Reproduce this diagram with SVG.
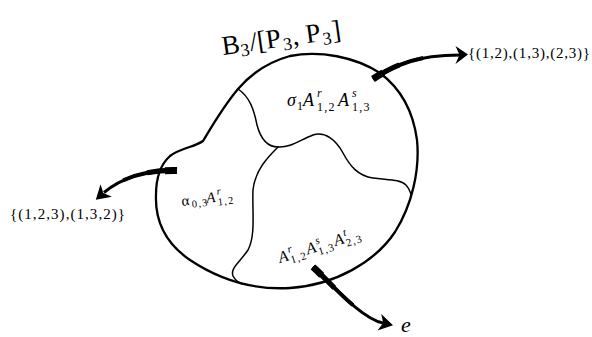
<svg xmlns="http://www.w3.org/2000/svg" width="592" height="337" viewBox="0 0 592 337">
<style>
.outline{fill:none;stroke:#000;stroke-width:2.3;stroke-linejoin:round}
.inner{fill:none;stroke:#000;stroke-width:1.5;stroke-linecap:round}
.arr{fill:#000;stroke:none}
.sh{fill:none;stroke:#000;stroke-linecap:butt}
.w1{stroke-width:7;stroke-dasharray:12 1000}
.w2{stroke-width:5.2;stroke-dasharray:30 1000}
.w3{stroke-width:4;stroke-dasharray:55 1000}
.w4{stroke-width:3}
text{font-family:"Liberation Serif","Times New Roman",serif;fill:#000}
.it{font-style:italic}
.sc{letter-spacing:1.2px}
</style>
<rect width="592" height="337" fill="#fff"/>
<g id="region-boundary">
<path class="outline" d="M238,89 C250,75 268,62 290,56 C320,50 355,57 380,73 C400,88 413,110 417,140 C420,170 412,205 395,232 C375,262 335,285 290,288 C255,290 220,280 190,260 C165,243 155,220 156,195 C156,180 160,165 170,156 C180,148 195,147 203,141 C208,133 222,108 238,89 Z"/>
<path class="inner" d="M238,89 C250,97 254,110 257,125 C261,140 268,147 278,147"/>
<path class="inner" d="M278,147 C290,148 300,140 313,135 C325,131 336,140 343,153 C350,166 358,176 373,178 C388,180 400,179 406,185 C409,188 410,191 411,194"/>
<path class="inner" d="M278,147 C268,157 255,170 253,190 C252,210 256,235 248,250 C240,262 230,268 233,276 C235,280 238,282 242,284"/>
</g>
<g id="title">
<text font-size="27" transform="rotate(-8 223 55)"><tspan x="223" y="55">B</tspan><tspan x="241" y="59" font-size="18">3</tspan><tspan x="251" y="55">/[P</tspan><tspan x="284" y="59" font-size="18">3</tspan><tspan x="294" y="55">, P</tspan><tspan x="324" y="59" font-size="18">3</tspan><tspan x="334" y="55">]</tspan></text>
</g>
<g id="node-sigma">
<text font-size="18"><tspan class="it" x="287" y="106">σ</tspan><tspan x="297" y="110" font-size="12">1</tspan><tspan class="it" x="303" y="106">A</tspan><tspan class="it" x="317" y="97" font-size="12">r</tspan><tspan class="sc" x="317" y="111" font-size="12">1,2</tspan><tspan class="it" x="338" y="106">A</tspan><tspan class="it" x="352" y="97" font-size="12">s</tspan><tspan class="sc" x="352" y="111" font-size="12">1,3</tspan></text>
</g>
<g id="node-alpha">
<text font-size="15" transform="rotate(-7 182 206)"><tspan x="182" y="206">α</tspan><tspan class="sc" x="192" y="209" font-size="10.5">0,3</tspan><tspan class="it" x="207" y="206">A</tspan><tspan class="it" x="218" y="199" font-size="10.5">r</tspan><tspan class="sc" x="218" y="210" font-size="10.5">1,2</tspan></text>
</g>
<g id="node-A">
<text font-size="16" transform="rotate(-17 280 263)"><tspan class="it" x="280" y="263">A</tspan><tspan class="it" x="291" y="256" font-size="11">r</tspan><tspan class="sc" x="291" y="267" font-size="11">1,2</tspan><tspan class="it" x="309" y="263">A</tspan><tspan class="it" x="320" y="256" font-size="11">s</tspan><tspan class="sc" x="320" y="267" font-size="11">1,3</tspan><tspan class="it" x="338" y="263">A</tspan><tspan class="it" x="349" y="256" font-size="11">t</tspan><tspan class="sc" x="349" y="267" font-size="11">2,3</tspan></text>
</g>
<g id="connectors">
<path class="sh w1" d="M373,79 C393,66 415,55 460,55"/>
<path class="sh w2" d="M373,79 C393,66 415,55 460,55"/>
<path class="sh w3" d="M373,79 C393,66 415,55 460,55"/>
<path class="sh w4" d="M373,79 C393,66 415,55 460,55"/>
<path class="arr" d="M468,54.5 L455.5,46 L459.5,54.8 L455.5,64 Z"/>
<path class="sh w1" d="M177,170.5 C150,170 125,175 104,192.5"/>
<path class="sh w2" d="M177,170.5 C150,170 125,175 104,192.5"/>
<path class="sh w3" d="M177,170.5 C150,170 125,175 104,192.5"/>
<path class="sh w4" d="M177,170.5 C150,170 125,175 104,192.5"/>
<path class="arr" d="M95.8,199.8 L100.5,184.2 L103.3,193.1 L111.9,196.8 Z"/>
<path class="sh w1" d="M313,267 C330,282 360,318 383,323"/>
<path class="sh w2" d="M313,267 C330,282 360,318 383,323"/>
<path class="sh w3" d="M313,267 C330,282 360,318 383,323"/>
<path class="sh w4" d="M313,267 C330,282 360,318 383,323"/>
<path class="arr" d="M393,325.3 L381.2,313.9 L383.2,323.1 L377.5,330.5 Z"/>
</g>
<g id="label-top">
<text font-size="15" x="468" y="58" textLength="122" lengthAdjust="spacing">{(1,2),(1,3),(2,3)}</text>
</g>
<g id="label-left">
<text font-size="15" x="10" y="219" textLength="115" lengthAdjust="spacing">{(1,2,3),(1,3,2)}</text>
</g>
<g id="label-e">
<text class="it" font-size="22" x="401" y="332">e</text>
</g>
</svg>
